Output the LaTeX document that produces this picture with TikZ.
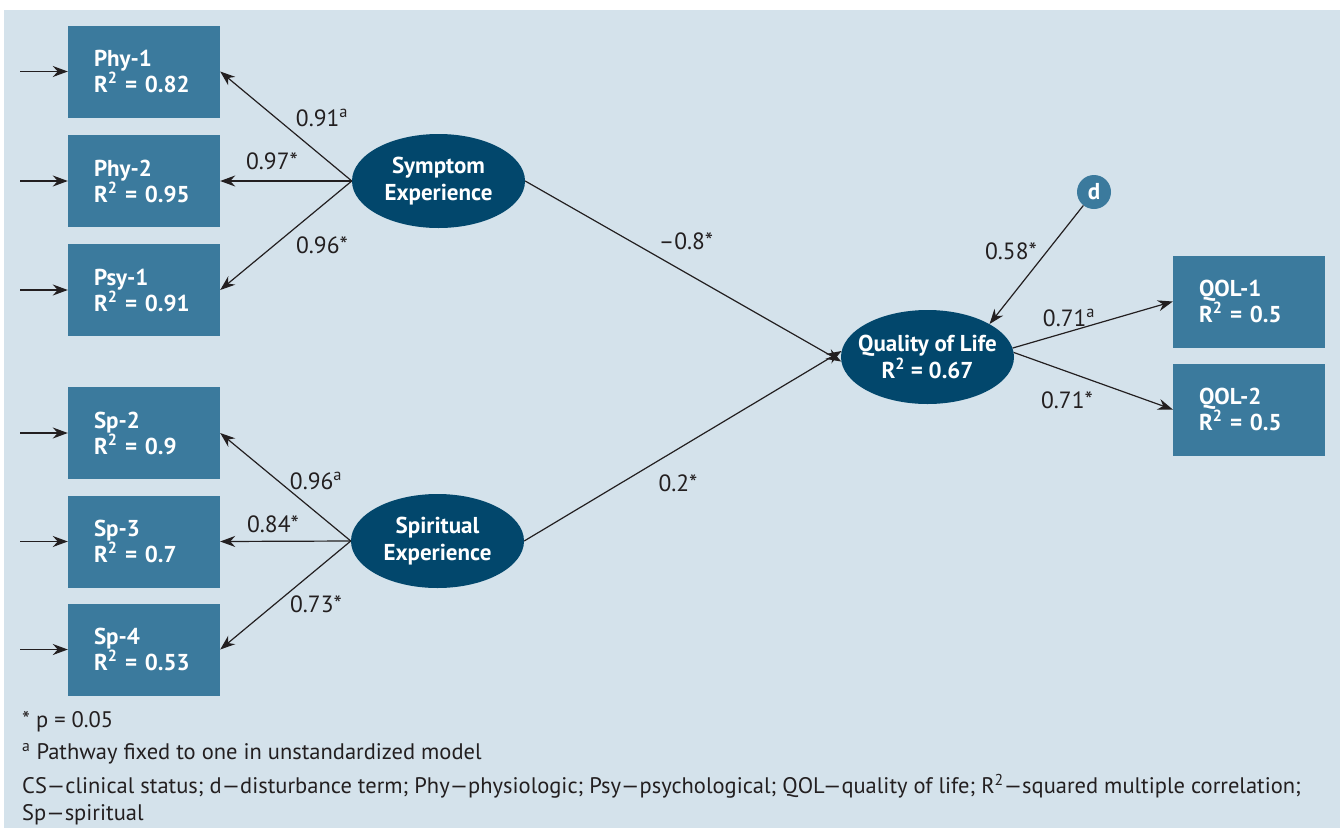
\documentclass[tikz,border=0pt]{standalone}
\usepackage{fontspec}
\setmainfont{PT Sans}
\usetikzlibrary{arrows.meta,shapes.geometric}
\definecolor{bgblue}{HTML}{D4E2EB}
\definecolor{boxblue}{HTML}{3B7A9D}
\definecolor{darkblue}{HTML}{02476C}
\definecolor{ink}{HTML}{231F20}
\tikzset{
  obsbox/.style={fill=boxblue, draw=none, text=white, font=\fontsize{23}{26}\selectfont\bfseries,
    inner xsep=26pt, inner ysep=0pt, text width=100pt, minimum height=92pt, align=left},
  latent/.style={ellipse, fill=darkblue, draw=none, text=white, font=\fontsize{23}{27}\selectfont\bfseries,
    minimum width=173pt, minimum height=94pt, inner xsep=-20pt, inner ysep=-6pt, align=center},
  dnode/.style={circle, fill=boxblue, draw=none, text=white, font=\fontsize{23}{26}\selectfont\bfseries,
    minimum size=34pt, inner sep=0pt},
  path/.style={draw=ink, line width=1.2pt, -{Stealth[length=15pt,width=11pt]}},
  coef/.style={text=ink, font=\fontsize{23.5}{26}\selectfont, inner sep=0pt},
  note/.style={text=ink, font=\fontsize{22.5}{26}\selectfont, inner sep=0pt, anchor=base west}
}
\begin{document}
\begin{tikzpicture}[x=1pt,y=-1pt]
\useasboundingbox (0,0) rectangle (1344,828);
\fill[white] (0,0) rectangle (1344,828);
\fill[bgblue] (4,10) rectangle (1340,828);

% observed boxes
\node[obsbox] (phy1) at (144,71.5) {Phy-1\\R\textsuperscript{2} = 0.82};
\node[obsbox] (phy2) at (144,181) {Phy-2\\R\textsuperscript{2} = 0.95};
\node[obsbox] (psy1) at (144,290) {Psy-1\\R\textsuperscript{2} = 0.91};
\node[obsbox] (sp2) at (144,433) {Sp-2\\R\textsuperscript{2} = 0.9};
\node[obsbox] (sp3) at (144,541.5) {Sp-3\\R\textsuperscript{2} = 0.7};
\node[obsbox] (sp4) at (144,649.5) {Sp-4\\R\textsuperscript{2} = 0.53};
\node[obsbox] (qol1) at (1249,301.5) {QOL-1\\R\textsuperscript{2} = 0.5};
\node[obsbox] (qol2) at (1249,409.5) {QOL-2\\R\textsuperscript{2} = 0.5};

% latent
\node[latent] (se) at (438.5,181) {Symptom\\Experience};
\node[latent] (spe) at (437.5,541) {Spiritual\\Experience};
\node[latent] (qol) at (927.5,357) {Quality of Life\\R\textsuperscript{2} = 0.67};
\node[dnode] (d) at (1094,192) {d};

% error inputs
\coordinate (e1) at (20,71.5);
\coordinate (e2) at (20,181);
\coordinate (e3) at (20,290);
\coordinate (e4) at (20,433);
\coordinate (e5) at (20,541.5);
\coordinate (e6) at (20,649.5);
\draw[path] (e1) -- (phy1.west);
\draw[path] (e2) -- (phy2.west);
\draw[path] (e3) -- (psy1.west);
\draw[path] (e4) -- (sp2.west);
\draw[path] (e5) -- (sp3.west);
\draw[path] (e6) -- (sp4.west);

% loadings
\draw[path] (se.west) -- (phy1.east);
\draw[path] (se.west) -- (phy2.east);
\draw[path] (se.west) -- (psy1.east);
\draw[path] (spe.west) -- (sp2.east);
\draw[path] (spe.west) -- (sp3.east);
\draw[path] (spe.west) -- (sp4.east);

\node[coef] (l1) at (322,118) {0.91\textsuperscript{a}};
\node[coef] (l2) at (272,161) {0.97*};
\node[coef] (l3) at (322,245) {0.96*};
\node[coef] (l4) at (316,481) {0.96\textsuperscript{a}};
\node[coef] (l5) at (273,524) {0.84*};
\node[coef] (l6) at (316,604) {0.73*};

% structural
\draw[path] (se.east) -- (qol.183);
\draw[path] (spe.east) -- (qol.176);
\draw[path] (d) -- (qol.28);
\draw[path] (qol.6) -- (qol1.west);
\draw[path] (qol.3) -- (qol2.west);

\node[coef] (l7) at (686,241) {--0.8*};
\node[coef] (l8) at (678,483) {0.2*};
\node[coef] (l9) at (1011,251) {0.58*};
\node[coef] (l10) at (1069,318) {0.71\textsuperscript{a}};
\node[coef] (l11) at (1067,400) {0.71*};

% notes
\node[note] (n1) at (22,727) {* p = 0.05};
\node[note] (n2) at (22,759) {\textsuperscript{a} Pathway fixed to one in unstandardized model};
\node[note] (n3) at (22,793) {CS---clinical status; d---disturbance term; Phy---physiologic; Psy---psychological; QOL---quality of life; R\textsuperscript{2}---squared multiple correlation;};
\node[note] (n4) at (22,820) {Sp---spiritual};
\end{tikzpicture}
\end{document}
